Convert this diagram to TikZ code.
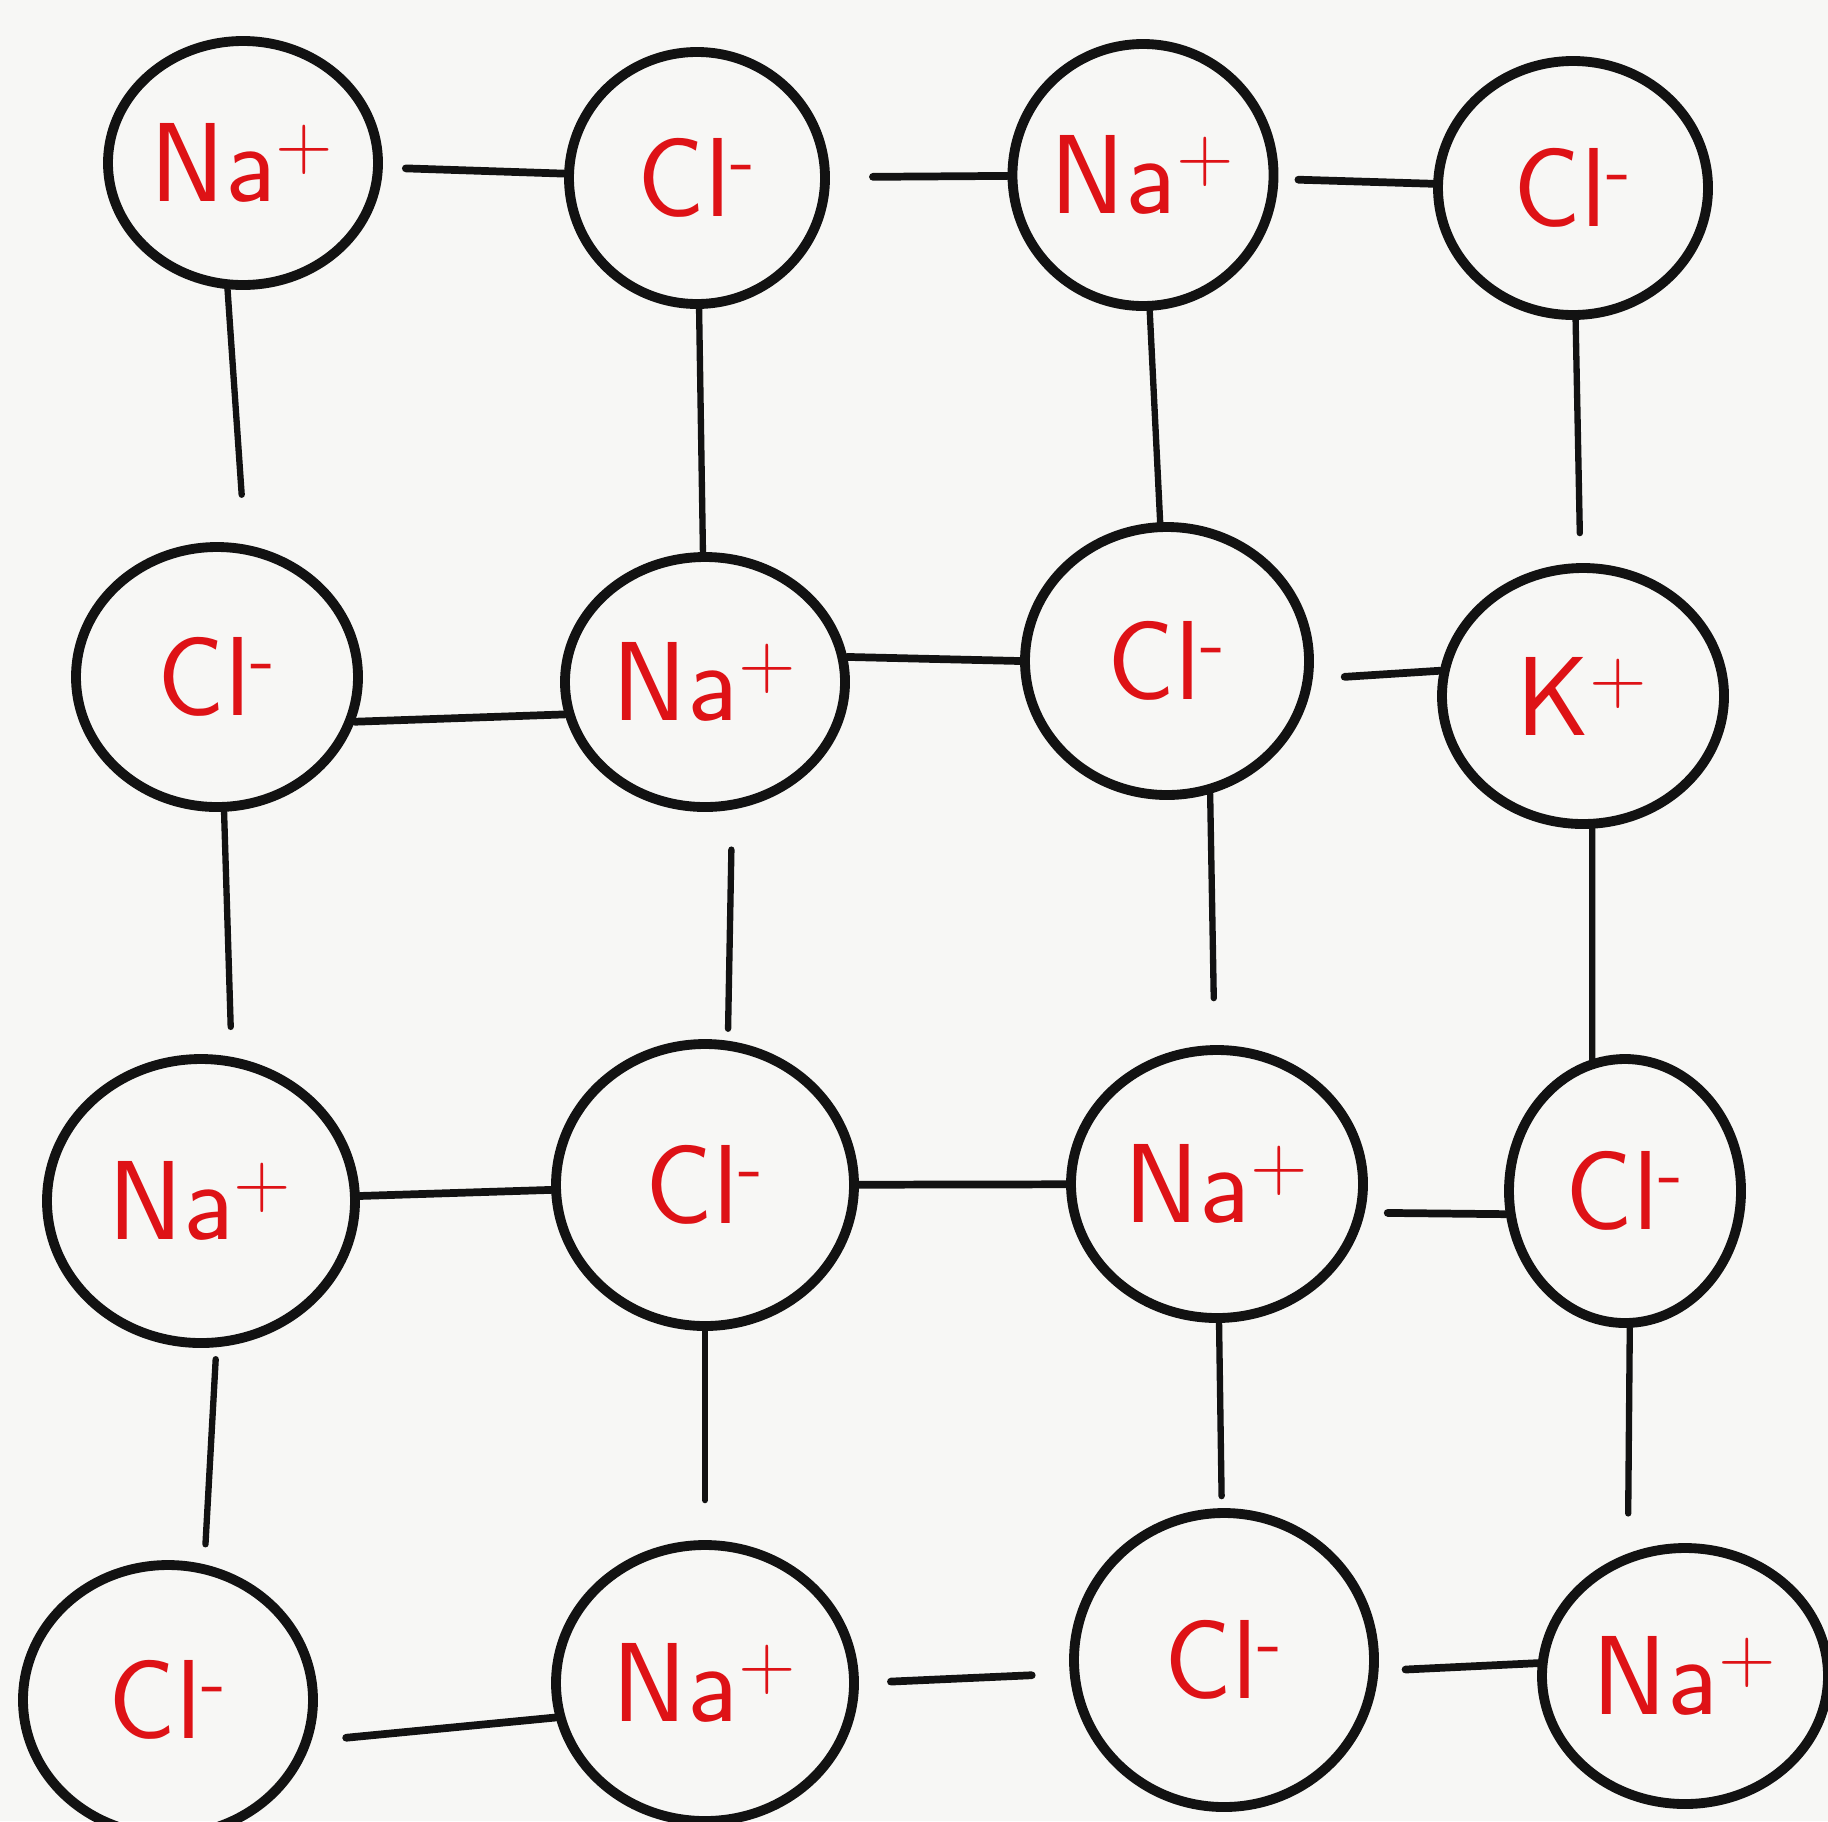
\documentclass[tikz,border=0pt]{standalone}
\usetikzlibrary{shapes.geometric}
\definecolor{ink}{RGB}{18,18,18}
\definecolor{ionred}{RGB}{222,18,22}
\definecolor{paper}{RGB}{247,247,245}
\begin{document}
\begin{tikzpicture}[
  ion/.style={ellipse, draw=ink, line width=2.8pt, inner sep=0pt, text=ionred,
    font=\sffamily\fontsize{32}{32}\selectfont},
  hbond/.style={draw=ink, line width=2.2pt, line cap=round},
  vbond/.style={draw=ink, line width=1.8pt, line cap=round}]
% paper sheet
\fill[paper] (0,0) rectangle (18.28,-18.21);
\useasboundingbox (0,0) rectangle (18.28,-18.21);

% row 1
\node[ion, minimum width=2.70cm, minimum height=2.44cm] (n11) at (2.43,-1.63) {Na\textsuperscript{+}};
\node[ion, minimum width=2.56cm, minimum height=2.52cm] (n12) at (6.97,-1.78) {Cl\textsuperscript{-}};
\node[ion, minimum width=2.54cm, minimum height=2.62cm] (n13) at (11.43,-1.75) {Na\textsuperscript{+}};
\node[ion, minimum width=2.70cm, minimum height=2.54cm] (n14) at (15.73,-1.88) {Cl\textsuperscript{-}};
% row 2
\node[ion, minimum width=2.82cm, minimum height=2.60cm] (n21) at (2.17,-6.77) {Cl\textsuperscript{-}};
\node[ion, minimum width=2.80cm, minimum height=2.50cm] (n22) at (7.05,-6.82) {Na\textsuperscript{+}};
\node[ion, minimum width=2.84cm, minimum height=2.68cm] (n23) at (11.67,-6.61) {Cl\textsuperscript{-}};
\node[ion, minimum width=2.82cm, minimum height=2.56cm] (n24) at (15.83,-6.96) {K\textsuperscript{+}};
% row 3
\node[ion, minimum width=3.08cm, minimum height=2.84cm] (n31) at (2.01,-12.01) {Na\textsuperscript{+}};
\node[ion, minimum width=2.98cm, minimum height=2.82cm] (n32) at (7.05,-11.85) {Cl\textsuperscript{-}};
\node[ion, minimum width=2.92cm, minimum height=2.68cm] (n33) at (12.17,-11.84) {Na\textsuperscript{+}};
\node[ion, minimum width=2.32cm, minimum height=2.64cm] (n34) at (16.25,-11.91) {Cl\textsuperscript{-}};
% row 4
\node[ion, minimum width=2.90cm, minimum height=2.70cm] (n41) at (1.68,-17.00) {Cl\textsuperscript{-}};
\node[ion, minimum width=2.98cm, minimum height=2.76cm] (n42) at (7.05,-16.83) {Na\textsuperscript{+}};
\node[ion, minimum width=3.00cm, minimum height=2.94cm] (n43) at (12.24,-16.60) {Cl\textsuperscript{-}};
\node[ion, minimum width=2.86cm, minimum height=2.56cm] (n44) at (16.85,-16.76) {Na\textsuperscript{+}};

% horizontal bonds
\draw[hbond, shorten <=0.23cm] (n11) -- (n12);
\draw[hbond, shorten <=0.43cm] (n12) -- (n13);
\draw[hbond, shorten <=0.20cm] (n13) -- (n14);
\draw[hbond] (n21.-18) -- (n22.-167);
\draw[hbond] (n22.10) -- (n23.180);
\draw[hbond, shorten <=0.32cm] (n23.-7) -- (n24.170);
\draw[hbond] (n31) -- (n32);
\draw[hbond] (n32) -- (n33);
\draw[hbond, shorten <=0.23cm] (n33.-11) -- (n34.-169);
\draw[hbond, shorten <=0.35cm] (n41.-16) -- (n42.-167);
\draw[hbond, shorten <=0.32cm, shorten >=0.38cm] (n42.0) -- (n43.-175);
\draw[hbond, shorten <=0.27cm] (n43.-4) -- (n44.175);

% vertical bonds
\draw[vbond, shorten >=0.50cm] (n11.-97) -- (n21.78);
\draw[vbond] (n12) -- (n22);
\draw[vbond] (n13) -- (n23);
\draw[vbond, shorten >=0.30cm] (n14) -- (n24);
\draw[vbond, shorten >=0.30cm] (n21.-87) -- (n31.78);
\draw[vbond, shorten <=0.40cm, shorten >=0.12cm] (n22.-78) -- (n32.81);
\draw[vbond, shorten >=0.47cm] (n23.-72) -- (n33.91);
\draw[vbond] (n24.-86) -- (n34.104);
\draw[vbond, shorten <=0.12cm, shorten >=0.20cm] (n31.-84) -- (n41.75);
\draw[vbond, shorten >=0.40cm] (n32) -- (n42);
\draw[vbond, shorten >=0.12cm] (n33) -- (n43);
\draw[vbond, shorten >=0.40cm] (n34.-88) -- (n44.115);
\end{tikzpicture}
\end{document}
